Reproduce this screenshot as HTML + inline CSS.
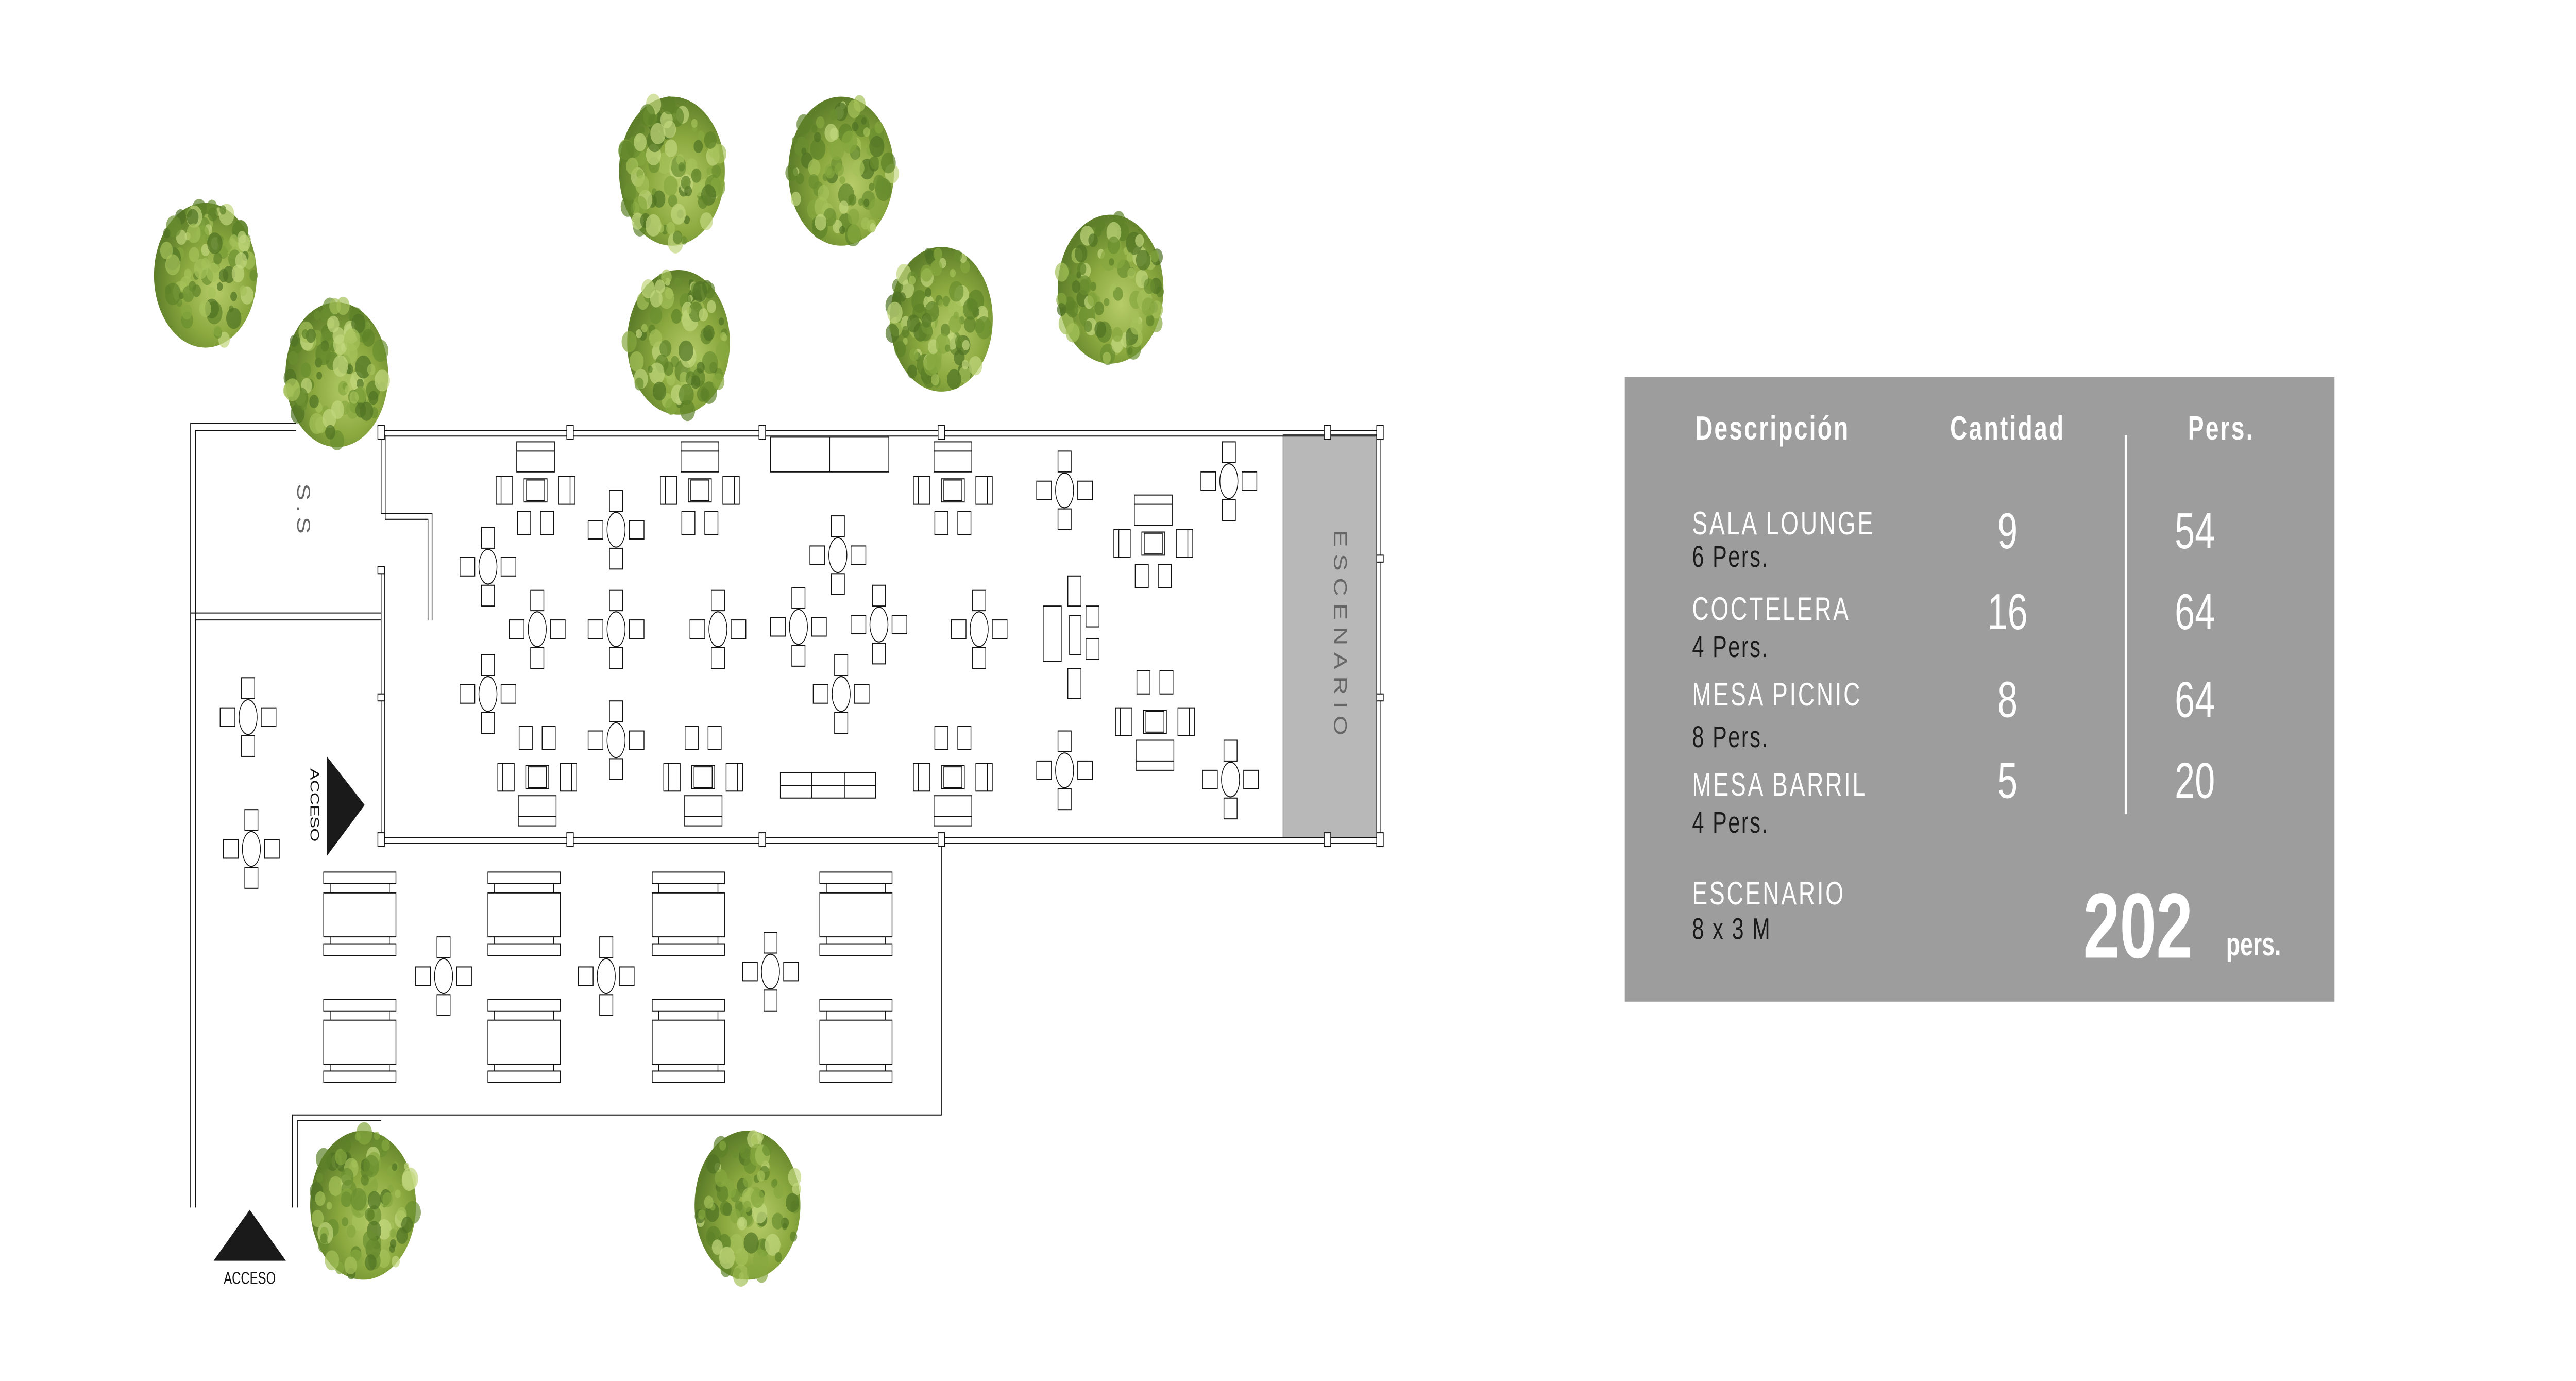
<!DOCTYPE html>
<html><head><meta charset="utf-8"><style>
html,body{margin:0;padding:0;background:#fff;width:100%;height:100%;overflow:hidden;}
svg{position:fixed;left:0;top:0;width:100vw;height:100vh;display:block;}
</style></head><body>
<svg id="s" viewBox="0 0 1568 597" preserveAspectRatio="none" xmlns="http://www.w3.org/2000/svg">
<defs>
<radialGradient id="tg" cx="0.6" cy="0.6" r="0.6">
<stop offset="0" stop-color="#b7cc6a"/><stop offset="0.55" stop-color="#8aa83e"/><stop offset="1" stop-color="#5e7e2a"/>
</radialGradient>
</defs>
<g id="trees"></g>
<g id="plan" fill="none" stroke="#111" stroke-width="0.45">
<rect x="781" y="188" width="57" height="174" fill="#b8b8b8" stroke="#333" stroke-width="0.4"/>
<line x1="232" y1="186" x2="840" y2="186"/><line x1="232" y1="188.5" x2="840" y2="188.5"/>
<line x1="232" y1="362" x2="840" y2="362"/><line x1="232" y1="364.5" x2="840" y2="364.5"/>
<line x1="838" y1="186" x2="838" y2="364"/><line x1="840.5" y1="186" x2="840.5" y2="364"/>
<polyline points="232,188 232,222 263,222 263,268"/><polyline points="234.5,188 234.5,224.5 260.5,224.5 260.5,268"/>
<line x1="232" y1="245" x2="232" y2="364"/><line x1="234" y1="245" x2="234" y2="364"/>
<polyline points="116,522 116,183 180,183"/><polyline points="119,522 119,186 180,186"/>
<line x1="116" y1="265" x2="232" y2="265"/><line x1="119" y1="268" x2="232" y2="268"/>
<polyline points="573,364 573,482 178,482 178,522"/><polyline points="232,484.5 181,484.5 181,522"/>
</g>
<g id="furn" fill="#fff" stroke="#111" stroke-width="0.45"></g>
<text x="0" y="0" transform="translate(181,209) rotate(90)" font-family="Liberation Sans, sans-serif" font-size="11" fill="#666" letter-spacing="2">S.S</text>
<text x="0" y="0" transform="translate(812,275) rotate(90)" text-anchor="middle" font-family="Liberation Sans, sans-serif" font-size="11" fill="#666" letter-spacing="3">ESCENARIO</text>
<polygon points="199,327 222,348 199,370" fill="#1a1a1a"/>
<text x="0" y="0" transform="translate(189,348) rotate(90)" text-anchor="middle" font-family="Liberation Sans, sans-serif" font-size="7.5" fill="#111">ACCESO</text>
<polygon points="130,545 152,523 174,545" fill="#1a1a1a"/>
<text x="152" y="555" text-anchor="middle" font-family="Liberation Sans, sans-serif" font-size="7.5" fill="#111">ACCESO</text>
<rect x="989" y="163" width="432" height="270" fill="#9d9d9d"/>
<g font-family="Liberation Sans, sans-serif" fill="#fff">
<text x="1032" y="190" font-size="14.5" font-weight="bold" letter-spacing="1">Descripción</text>
<text x="1222" y="190" font-size="14.5" font-weight="bold" letter-spacing="1" text-anchor="middle">Cantidad</text>
<text x="1352" y="190" font-size="14.5" font-weight="bold" letter-spacing="1" text-anchor="middle">Pers.</text>
<line x1="1294" y1="188" x2="1294" y2="352" stroke="#fff" stroke-width="1.5"/>
<g font-size="14" letter-spacing="1.2">
<text x="1030" y="231">SALA LOUNGE</text>
<text x="1030" y="268">COCTELERA</text>
<text x="1030" y="305">MESA PICNIC</text>
<text x="1030" y="344">MESA BARRIL</text>
<text x="1030" y="391">ESCENARIO</text>
</g>
<g font-size="13" fill="#1a1a1a" letter-spacing="0.8">
<text x="1030" y="245">6 Pers.</text>
<text x="1030" y="284">4 Pers.</text>
<text x="1030" y="323">8 Pers.</text>
<text x="1030" y="360">4 Pers.</text>
<text x="1030" y="406">8 x 3 M</text>
</g>
<g font-size="22" text-anchor="middle">
<text x="1222" y="237">9</text><text x="1336" y="237">54</text>
<text x="1222" y="272">16</text><text x="1336" y="272">64</text>
<text x="1222" y="310">8</text><text x="1336" y="310">64</text>
<text x="1222" y="345">5</text><text x="1336" y="345">20</text>
</g>
<text x="1268" y="414" font-size="40" font-weight="bold">202</text>
<text x="1355" y="413" font-size="14" font-weight="bold">pers.</text>
</g>
</svg>
<script>
var NS="http://www.w3.org/2000/svg";
function el(p,t,a){var e=document.createElementNS(NS,t);for(var k in a)e.setAttribute(k,a[k]);p.appendChild(e);return e;}
var F=document.getElementById('furn'),T=document.getElementById('trees');
function r(x,y,w,h){return el(F,'rect',{x:x,y:y,width:w,height:h});}
[232,347,464,573,808,840].forEach(function(x){r(x-2,184,4,6);r(x-2,360,4,6);});
r(838,240,4,3);r(838,300,4,3);r(230,245,4,3);r(230,300,4,3);
function coc(cx,cy){r(cx-4,cy-17,8,9);r(cx-4,cy+8,8,9);r(cx-17,cy-4,9,8);r(cx+8,cy-4,9,8);el(F,'ellipse',{cx:cx,cy:cy,rx:5.5,ry:7.5});}
[[375,229],[297,245],[327,272],[375,272],[437,272],[486,271],[535,270],[596,272],[297,300],[375,320],[510,240],[512,300],[648,212],[748,208],[648,333],[749,337],[151,310],[153,367],[270,422],[369,422],[469,420]].forEach(function(p){coc(p[0],p[1]);});
function lounge(cx,y,down){
 var sy=down?y:y-13;
 r(cx-11.5,sy,23,13); var ly=down?sy+4:sy+9; el(F,'line',{x1:cx-11.5,y1:ly,x2:cx+11.5,y2:ly});
 var my=down?y+15:y-27;
 r(cx-24,my,10,12);el(F,'line',{x1:cx-21,y1:my,x2:cx-21,y2:my+12});
 r(cx+14,my,10,12);el(F,'line',{x1:cx+21,y1:my,x2:cx+21,y2:my+12});
 r(cx-7,my+1,14,10);r(cx-5.5,my+1.5,11,9);
 var by=down?y+30:y-43;
 r(cx-11,by,8,10);r(cx+3,by,8,10);
}
lounge(326,191,true);lounge(426,191,true);lounge(580,191,true);lounge(702,214,true);
lounge(327,357,false);lounge(428,357,false);lounge(580,357,false);lounge(703,333,false);
r(635,262,11,24);r(650,249,8,13);r(650,289,8,13);r(651,266,7,17);r(661,262,8,9);r(661,276,8,9);
r(469,189,72,15);el(F,'line',{x1:505,y1:189,x2:505,y2:204});
r(475,334,58,11);el(F,'line',{x1:475,y1:339.5,x2:533,y2:339.5});el(F,'line',{x1:494,y1:334,x2:494,y2:345});el(F,'line',{x1:514,y1:334,x2:514,y2:345});
function pic(cx,y){r(cx-22,y,44,5);r(cx-22,y+9,44,19);r(cx-22,y+31,44,5);
 [cx-18,cx+18].forEach(function(x){el(F,'line',{x1:x,y1:y+5,x2:x,y2:y+9});el(F,'line',{x1:x,y1:y+28,x2:x,y2:y+31});});}
[219,319,419,521].forEach(function(x){pic(x,377);pic(x,432);});
var trees=[[125,119,34],[205,162,34],[409,74,35],[512,74,35],[413,148,34],[573,138,34],[676,125,35],[221,521,35],[455,521,35]];
var seed=7;function rnd(){seed=(seed*16807)%2147483647;return seed/2147483647;}
var cols=['#4f7224','#6a8f2f','#86a83f','#a5c25a','#c2d77e','#5d8228'];
trees.forEach(function(t){
 el(T,'circle',{cx:t[0],cy:t[1],r:t[2]*0.92,fill:'url(#tg)'});
 for(var i=0;i<90;i++){var a=rnd()*6.283,d=Math.sqrt(rnd())*t[2]*0.9;
  el(T,'circle',{cx:t[0]+Math.cos(a)*d,cy:t[1]+Math.sin(a)*d,r:1.5+rnd()*3.5,fill:cols[Math.floor(rnd()*cols.length)],opacity:0.7});}
});
</script>
</body></html>
